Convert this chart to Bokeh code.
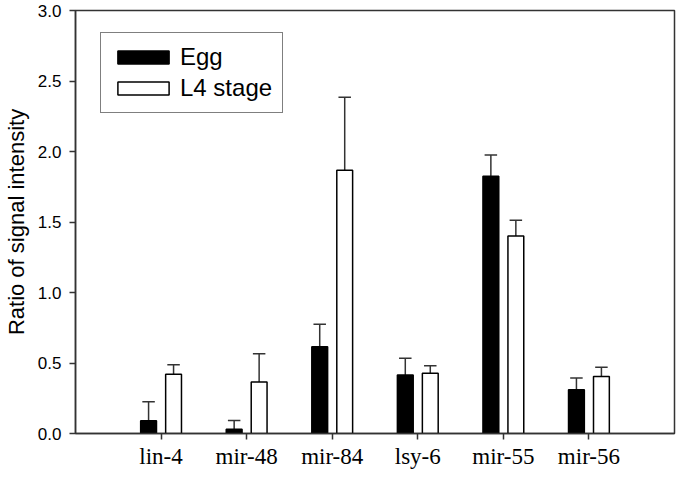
import numpy as np
from bokeh.plotting import figure
from bokeh.models import (ColumnDataSource, FixedTicker, NumeralTickFormatter,
                          Legend, LegendItem, Range1d)
from bokeh.embed import file_html
from bokeh.resources import INLINE

# ---- data ----
categories = ["lin-4", "mir-48", "mir-84", "lsy-6", "mir-55", "mir-56"]
egg_mean = [0.09, 0.03, 0.615, 0.415, 1.825, 0.31]
egg_err = [0.135, 0.063, 0.159, 0.119, 0.150, 0.084]
l4_mean = [0.42, 0.365, 1.867, 0.428, 1.40, 0.405]
l4_err = [0.068, 0.201, 0.518, 0.053, 0.112, 0.065]
y_ticks = [0.0, 0.5, 1.0, 1.5, 2.0, 2.5, 3.0]
series_labels = ["Egg", "L4 stage"]

# ---- style constants ----
BAR_W = 0.185
OFFSET = 0.146
CAP_HALF = 0.073
AXIS_COLOR = "#333333"

pos = np.arange(1, len(categories) + 1)

def make_source(offset, means, errs):
    x = pos + offset
    top = np.array(means) + np.array(errs)
    return ColumnDataSource(dict(
        x=x, top=means, etop=top,
        cx0=x - CAP_HALF, cx1=x + CAP_HALF,
    ))

src_egg = make_source(-OFFSET, egg_mean, egg_err)
src_l4 = make_source(OFFSET, l4_mean, l4_err)

p = figure(width=676, height=473, output_backend="svg", toolbar_location=None,
           x_range=Range1d(0, len(categories) + 1), y_range=Range1d(0, 3.0),
           min_border_left=71, min_border_right=2, min_border_top=10,
           min_border_bottom=40)

p.background_fill_color = "white"
p.border_fill_color = "white"
p.outline_line_color = AXIS_COLOR
p.outline_line_width = 1.5
p.xgrid.visible = False
p.ygrid.visible = False

# error bars (upper only) drawn first
for src in (src_egg, src_l4):
    p.segment(x0="x", y0="top", x1="x", y1="etop", source=src,
              line_color=AXIS_COLOR, line_width=1.5)
    p.segment(x0="cx0", y0="etop", x1="cx1", y1="etop", source=src,
              line_color=AXIS_COLOR, line_width=1.5)

r_egg = p.vbar(x="x", top="top", bottom=0, width=BAR_W, source=src_egg,
               fill_color="black", line_color="black", line_width=1.5)
r_l4 = p.vbar(x="x", top="top", bottom=0, width=BAR_W, source=src_l4,
              fill_color="white", line_color="black", line_width=1.5)

# x axis
xa = p.xaxis[0]
xa.ticker = FixedTicker(ticks=list(pos))
xa.major_label_overrides = {int(i): c for i, c in zip(pos, categories)}
xa.major_label_text_font = "Liberation Serif"
xa.major_label_text_font_size = "23px"
xa.major_label_text_color = "black"
xa.major_tick_out = 6
xa.major_tick_in = 0
xa.minor_tick_line_color = None
xa.major_label_standoff = 4
xa.axis_line_color = AXIS_COLOR
xa.axis_line_width = 1.5
xa.major_tick_line_color = AXIS_COLOR
xa.major_tick_line_width = 1.5

# y axis
ya = p.yaxis[0]
ya.ticker = FixedTicker(ticks=y_ticks)
ya.formatter = NumeralTickFormatter(format="0.0")
ya.major_label_text_font = "Liberation Sans"
ya.major_label_text_font_size = "17px"
ya.major_label_text_color = "black"
ya.major_tick_out = 6
ya.major_tick_in = 0
ya.minor_tick_line_color = None
ya.major_label_standoff = 8
ya.axis_line_color = AXIS_COLOR
ya.axis_line_width = 1.5
ya.major_tick_line_color = AXIS_COLOR
ya.major_tick_line_width = 1.5
ya.axis_label = "Ratio of signal intensity"
ya.axis_label_text_font = "Liberation Sans"
ya.axis_label_text_font_size = "22px"
ya.axis_label_text_font_style = "normal"
ya.axis_label_text_color = "black"
ya.axis_label_standoff = 6

legend = Legend(items=[LegendItem(label=series_labels[0], renderers=[r_egg]),
                       LegendItem(label=series_labels[1], renderers=[r_l4])],
                location=(25, 320), margin=0)
legend.border_line_color = "black"
legend.border_line_width = 1.5
legend.background_fill_color = "white"
legend.background_fill_alpha = 1.0
legend.padding = 10
legend.spacing = 3
legend.glyph_width = 64
legend.glyph_height = 16
legend.label_standoff = 5
legend.label_text_font = "Liberation Sans"
legend.label_text_font_size = "24px"
legend.label_text_color = "black"
p.add_layout(legend, "center")

open("out.html", "w").write(file_html(p, INLINE))
